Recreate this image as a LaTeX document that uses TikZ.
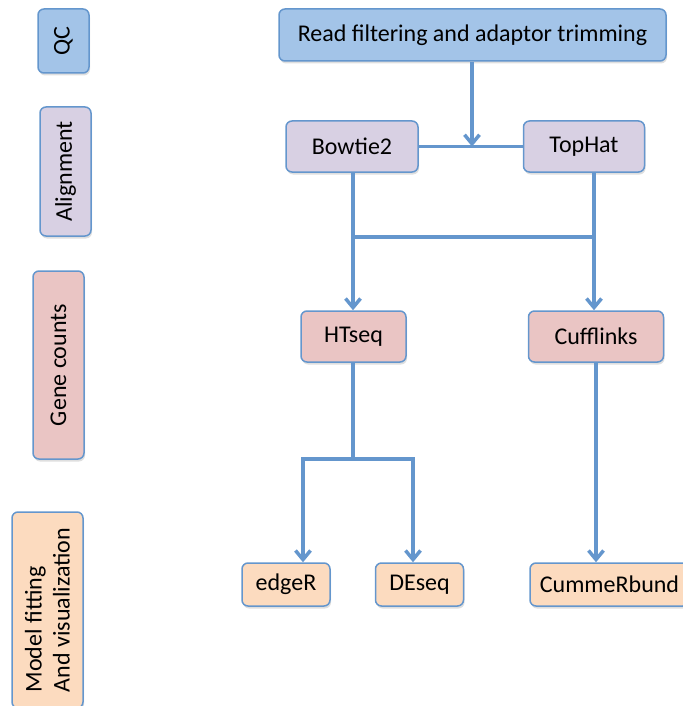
\documentclass[tikz,border=0pt]{standalone}
\usepackage{fontspec}
\setmainfont{Carlito}
\usepackage{tikz}
\usetikzlibrary{positioning,arrows.meta,shadows}
\definecolor{borde}{RGB}{100,150,205}
\definecolor{azul}{RGB}{163,196,232}
\definecolor{lila}{RGB}{216,208,227}
\definecolor{rosa}{RGB}{234,197,196}
\definecolor{durazno}{RGB}{252,219,191}

\begin{document}
\begin{tikzpicture}[x=1pt, y=-1pt,
    paso/.style={draw=borde, line width=1.5pt, rounded corners=6pt, inner sep=0pt,
                 minimum height=51pt, font=\fontsize{24}{28}\selectfont,
                 drop shadow={opacity=0.25, shadow xshift=1pt, shadow yshift=-2.5pt}},
    etapa/.style={paso, rotate=90},
    linea/.style={line width=3.5pt, color=borde},
    flecha/.style={linea, -{Straight Barb[length=9pt, width=15pt]}}]
  \useasboundingbox (0,0) rectangle (682,706);
  % etapas a la izquierda
  \node[etapa, fill=azul, minimum width=64pt] (qc) at (63.5,41) {QC};
  \node[etapa, fill=lila, minimum width=129pt] (alin) at (65.5,171.5) {Alignment};
  \node[etapa, fill=rosa, minimum width=188pt] (conteo) at (58.5,365) {Gene counts};
  \node[etapa, fill=durazno, minimum width=196pt, minimum height=71pt, align=left] (modelo) at (47.5,610) {Model fitting\\And visualization};
  % pasos del flujo
  \node[paso, fill=azul, minimum width=387pt, minimum height=52pt] (lectura) at (472.5,35) {Read filtering and adaptor trimming};
  \node[paso, fill=lila, minimum width=132pt] (bowtie) at (352,146.5) {Bowtie2};
  \node[paso, fill=lila, minimum width=121pt, right=104pt of bowtie] (tophat) {TopHat};
  \node[paso, fill=rosa, minimum width=105pt] (htseq) at (353.5,336.5) {HTseq};
  \node[paso, fill=rosa, minimum width=135pt, right=121pt of htseq] (cufflinks) {Cufflinks};
  \node[paso, fill=durazno, minimum width=88pt, minimum height=43pt] (edger) at (286,584.5) {edgeR};
  \node[paso, fill=durazno, minimum width=88pt, minimum height=43pt, right=44pt of edger] (deseq) {DEseq};
  \node[paso, fill=durazno, minimum width=159pt, minimum height=43pt, right=65pt of deseq] (cummerbund) {CummeRbund};
  % conexiones
  \coordinate (rama1) at (353,237);
  \coordinate (rama2) at (594,237);
  \coordinate (rama3) at (353,459);
  \coordinate (rama4) at (303,459);
  \coordinate (rama5) at (413,459);
  \draw[flecha] (lectura.south -| 472,0) -- (bowtie.east -| 472,0);
  \draw[linea] (bowtie) -- (tophat);
  \draw[flecha] (bowtie.south -| rama1) -- (rama1 |- htseq.north);
  \draw[flecha] (tophat.south -| rama2) -- (rama2 |- cufflinks.north);
  \draw[linea] (rama1) -- (rama2);
  \draw[linea] (htseq.south -| rama3) -- (rama3);
  \draw[flecha] (rama3) -| (rama4 |- edger.north);
  \draw[flecha] (rama3) -| (rama5 |- deseq.north);
  \draw[flecha] (cufflinks.south) -- (cufflinks.south |- cummerbund.north);
\end{tikzpicture}
\end{document}
